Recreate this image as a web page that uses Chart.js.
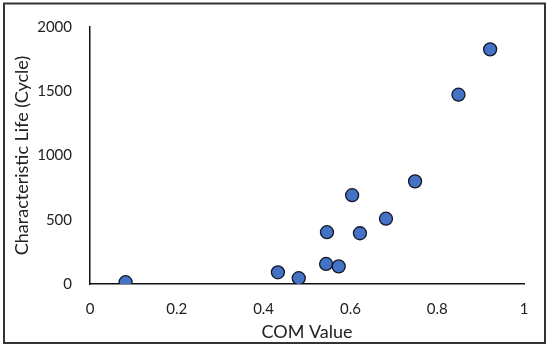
<!DOCTYPE html>
<html>
<head>
<meta charset="utf-8">
<script src="https://cdn.jsdelivr.net/npm/chart.js@4/dist/chart.umd.min.js"></script>
<style>
  html, body { margin: 0; padding: 0; background: #fff; }
  #wrap { width: 550px; height: 349px; position: relative; }
</style>
</head>
<body>
<div id="wrap"><canvas id="c" width="550" height="349"></canvas></div>
<script>
const comValues = [0.082, 0.433, 0.481, 0.544, 0.573, 0.546, 0.622, 0.604, 0.682, 0.749, 0.849, 0.922];
const lifeValues = [14, 91, 45, 156, 137, 403, 395, 691, 508, 799, 1473, 1826];
const xTickValues = [0, 0.2, 0.4, 0.6, 0.8, 1];
const yTickValues = [0, 500, 1000, 1500, 2000];
const xTitle = 'COM Value';
const yTitle = 'Characteristic Life (Cycle)';

const points = comValues.map((v, i) => ({ x: v, y: lifeValues[i] }));
const FONT = 'Lato, "Open Sans", sans-serif';

const borderPlugin = {
  id: 'outerBorder',
  afterDraw(chart) {
    const ctx = chart.ctx;
    ctx.save();
    ctx.strokeStyle = '#333333';
    ctx.lineWidth = 2;
    ctx.strokeRect(4, 3.5, 541, 339.5);
    ctx.restore();
  }
};

new Chart(document.getElementById('c'), {
  type: 'scatter',
  data: {
    datasets: [{
      data: points,
      backgroundColor: '#4472C4',
      borderColor: '#111827',
      borderWidth: 1.3,
      pointRadius: 6.5,
      pointHoverRadius: 6.5
    }]
  },
  options: {
    responsive: false,
    animation: false,
    devicePixelRatio: 1,
    plugins: { legend: { display: false }, tooltip: { enabled: false } },
    layout: { padding: { left: 11, right: 26, top: 24, bottom: 6 } },
    scales: {
      x: {
        type: 'linear',
        min: 0, max: 1,
        afterBuildTicks: s => { s.ticks = xTickValues.map(v => ({ value: v })); },
        afterFit: s => { s.height = 59; },
        grid: { display: false, drawTicks: false },
        border: { display: true, color: '#111', width: 1.5 },
        ticks: {
          padding: 16,
          color: '#222',
          font: { family: FONT, size: 15 },
          callback: v => String(v)
        },
        title: {
          display: true, text: xTitle, color: '#222',
          font: { family: FONT, size: 18 },
          padding: { top: 2, bottom: 0 }
        }
      },
      y: {
        type: 'linear',
        min: 0, max: 2000,
        afterBuildTicks: s => { s.ticks = yTickValues.map(v => ({ value: v })); },
        afterFit: s => { s.width = 79; },
        grid: { display: false, drawTicks: false },
        border: { display: true, color: '#111', width: 1.5 },
        ticks: {
          padding: 18,
          color: '#222',
          font: { family: FONT, size: 15 },
          callback: v => String(v)
        },
        title: {
          display: true, text: yTitle, color: '#222',
          font: { family: FONT, size: 18 },
          padding: { top: 0, bottom: 4 }
        }
      }
    }
  },
  plugins: [borderPlugin]
});
</script>
</body>
</html>
